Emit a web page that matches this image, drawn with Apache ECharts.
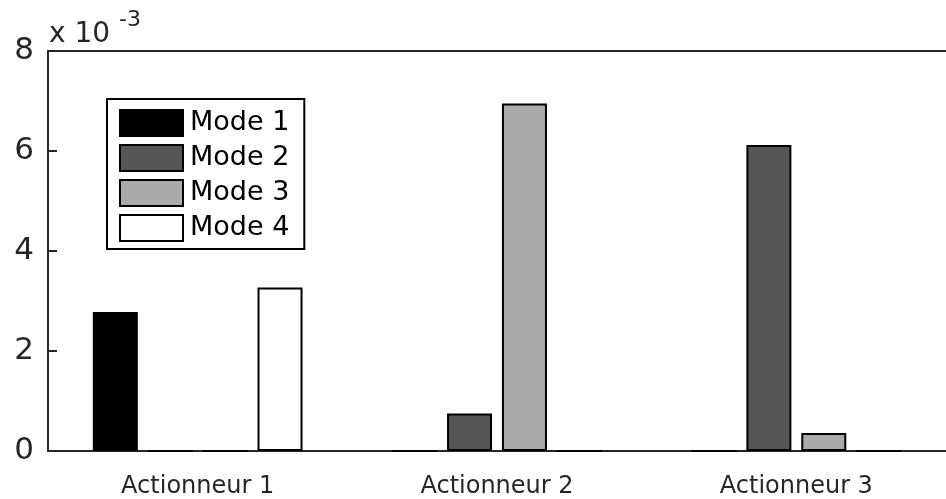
<!DOCTYPE html>
<html>
<head>
<meta charset="utf-8">
<script src="https://cdn.jsdelivr.net/npm/echarts@6/dist/echarts.min.js"></script>
<style>html,body{margin:0;padding:0;background:#fff}#c{width:946px;height:499px}</style>
</head>
<body>
<div id="c"></div>
<script>
var categories = ['Actionneur 1', 'Actionneur 2', 'Actionneur 3'];
var seriesNames = ['Mode 1', 'Mode 2', 'Mode 3', 'Mode 4'];
var mode1 = [2.78, 0, 0];
var mode2 = [0, 0.75, 6.12];
var mode3 = [0, 6.95, 0.36];
var mode4 = [3.27, 0, 0];
var yTicks = [0, 2, 4, 6, 8];
var colors = ['#000000', '#555555', '#aaaaaa', '#ffffff'];
var allData = [mode1, mode2, mode3, mode4];

var font = 'DejaVu Sans';
var axisCol = '#262626';
var chart = echarts.init(document.getElementById('c'), null, {renderer: 'canvas'});
var series = seriesNames.map(function (n, i) {
  return {
    name: n, type: 'bar', data: allData[i], barWidth: 45, barGap: '22%',
    itemStyle: {color: colors[i], borderColor: '#000', borderWidth: 2},
    emphasis: {disabled: true}
  };
});
chart.setOption({
  animation: false,
  grid: {left: 48, top: 51, bottom: 44, right: -10.5, containLabel: false},
  legend: {
    orient: 'vertical', left: 107, top: 99, data: seriesNames,
    icon: 'rect',
    itemWidth: 63, itemHeight: 26, itemGap: 7,
    padding: [10, 15, 7, 12],
    borderColor: '#000', borderWidth: 2, backgroundColor: '#fff',
    textStyle: {fontFamily: font, fontSize: 27, color: '#000', lineHeight: 26, padding: [0, 0, 0, 2]},
    selectedMode: false
  },
  xAxis: [{
    type: 'category', data: categories, position: 'bottom',
    axisLine: {lineStyle: {color: axisCol, width: 2}},
    axisTick: {alignWithLabel: true, inside: true, length: 9, lineStyle: {color: axisCol, width: 2}},
    axisLabel: {fontFamily: font, fontSize: 24, color: axisCol, margin: 24}
  }, {
    type: 'category', data: categories, position: 'top',
    axisLine: {lineStyle: {color: axisCol, width: 2}},
    axisTick: {alignWithLabel: true, inside: true, length: 9, lineStyle: {color: axisCol, width: 2}},
    axisLabel: {show: false}
  }],
  yAxis: {
    type: 'value', min: yTicks[0], max: yTicks[yTicks.length - 1], interval: 2,
    axisLine: {show: true, lineStyle: {color: axisCol, width: 2}},
    axisTick: {show: true, inside: true, length: 9, lineStyle: {color: axisCol, width: 2}},
    splitLine: {show: false},
    axisLabel: {fontFamily: font, fontSize: 31, color: axisCol, margin: 14}
  },
  graphic: [{
    type: 'text', x: 49, y: 21,
    style: {text: 'x 10', fontFamily: font, fontSize: 28, fill: axisCol}
  }, {
    type: 'text', x: 119, y: 9,
    style: {text: '-3', fontFamily: font, fontSize: 22, fill: axisCol}
  }],
  series: series
});
</script>
</body>
</html>
